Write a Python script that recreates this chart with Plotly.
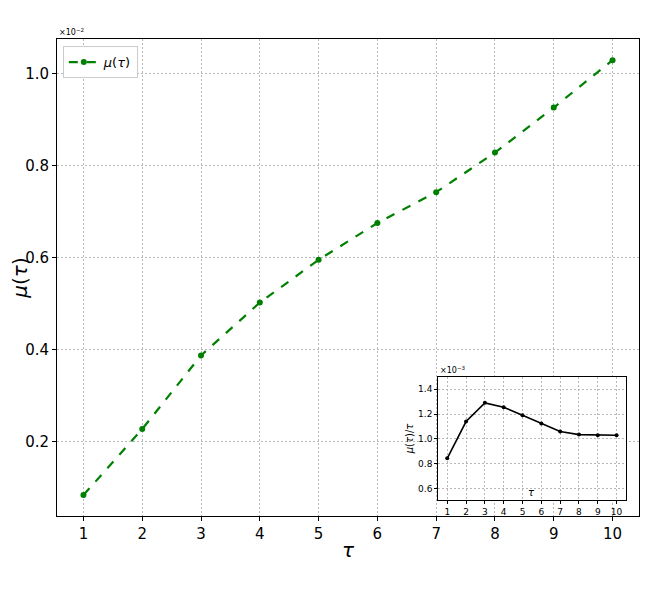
import plotly.graph_objects as go

# data
tau = [1, 2, 3, 4, 5, 6, 7, 8, 9, 10]
mu = [0.0845, 0.228, 0.388, 0.503, 0.596, 0.676, 0.743, 0.829, 0.927, 1.030]        # x1e-2
mu_over_tau = [0.845, 1.14, 1.29, 1.255, 1.19, 1.125, 1.06, 1.035, 1.03, 1.03]    # x1e-3

main_yticks = [0.2, 0.4, 0.6, 0.8, 1.0]
inset_yticks = [0.6, 0.8, 1.0, 1.2, 1.4]

FONT = "DejaVu Sans"
GRID = "#b8b8b8"

XR = [0.55, 10.45]
YR = [0.039, 1.076]
INSET_X = [0.655, 0.977]
INSET_Y = [0.034, 0.291]

fig = go.Figure()

# main curve
fig.add_trace(go.Scatter(
    x=tau, y=mu, mode="lines+markers", name="<i>μ</i>(<i>τ</i>)",
    line=dict(color="green", width=2.2, dash="dash"),
    marker=dict(color="green", size=6),
    xaxis="x", yaxis="y",
))

# inset curve
fig.add_trace(go.Scatter(
    x=tau, y=mu_over_tau, mode="lines+markers", showlegend=False,
    line=dict(color="black", width=1.6),
    marker=dict(color="black", size=4),
    xaxis="x2", yaxis="y2",
))

axis_common = dict(
    showline=True, linecolor="black", linewidth=1, mirror=True,
    ticks="outside", tickcolor="black", ticklen=4,
    showgrid=True, gridcolor=GRID, griddash="2px,2px", gridwidth=0.8,
    zeroline=False, automargin=False,
)

# page body adds an 8px margin, so the figure is a bit smaller than the window
fig.update_layout(
    width=633, height=577,
    paper_bgcolor="white", plot_bgcolor="white",
    margin=dict(l=49, r=2, t=31, b=69),
    font=dict(family=FONT, color="black"),
    xaxis=dict(
        axis_common, domain=[0, 1], range=XR,
        tickvals=tau, tickfont=dict(size=15),
        title=dict(text="<i>τ</i>", font=dict(size=20), standoff=0),
    ),
    yaxis=dict(
        axis_common, domain=[0, 1], range=YR,
        tickvals=main_yticks, ticktext=[f"{v:.1f}" for v in main_yticks],
        tickfont=dict(size=15),
        title=dict(text="<i>μ</i>(<i>τ</i>)", font=dict(size=20), standoff=8),
    ),
    xaxis2=dict(
        axis_common, domain=INSET_X, anchor="y2", range=[0.52, 10.48],
        tickvals=tau, tickfont=dict(size=9), ticklen=3,
    ),
    yaxis2=dict(
        axis_common, domain=INSET_Y, anchor="x2", range=[0.512, 1.496],
        tickvals=inset_yticks, ticktext=[f"{v:.1f}" for v in inset_yticks],
        tickfont=dict(size=9), ticklen=3,
        title=dict(text="<i>μ</i>(<i>τ</i>)/<i>τ</i>", font=dict(size=10), standoff=2),
    ),
    legend=dict(
        x=0.01, y=0.985, xanchor="left", yanchor="top",
        bgcolor="white", bordercolor="#cccccc", borderwidth=1,
        font=dict(size=13),
    ),
    showlegend=True,
)

# white patch behind the inset (in main-axis units), hiding the main grid there
def lerp(r, f):
    return r[0] + (r[1] - r[0]) * f

fig.add_shape(
    type="rect", xref="x", yref="y",
    x0=lerp(XR, INSET_X[0]), x1=lerp(XR, INSET_X[1]),
    y0=lerp(YR, INSET_Y[0]), y1=lerp(YR, INSET_Y[1]),
    fillcolor="white", line=dict(width=0), layer="between",
)

# offset texts and inset x label
fig.add_annotation(
    text="×10<sup>−2</sup>", xref="paper", yref="paper", x=0.0, y=1.0,
    xanchor="left", yanchor="bottom", showarrow=False, font=dict(size=8),
)
fig.add_annotation(
    text="×10<sup>−3</sup>", xref="paper", yref="paper", x=INSET_X[0], y=INSET_Y[1],
    xanchor="left", yanchor="bottom", showarrow=False, font=dict(size=8),
)
fig.add_annotation(
    text="<i>τ</i>", xref="paper", yref="paper", x=(INSET_X[0] + INSET_X[1]) / 2,
    y=INSET_Y[0], xanchor="center", yanchor="bottom", showarrow=False,
    font=dict(size=10),
)

fig.write_html("out.html")
